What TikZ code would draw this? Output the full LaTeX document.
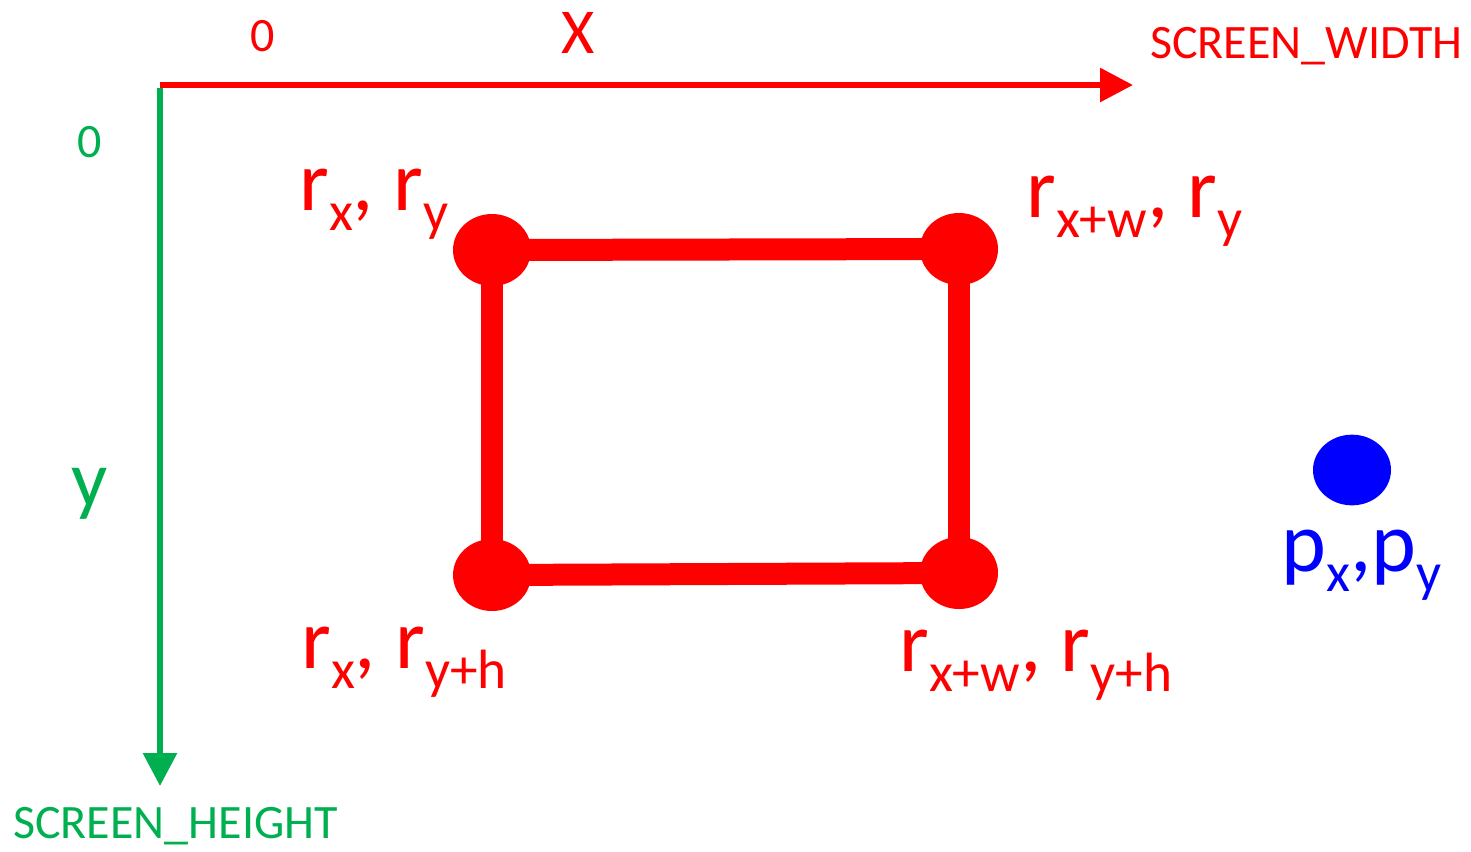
\documentclass[tikz,border=0pt]{standalone}
\usepackage{fontspec}
\setmainfont{Carlito}
\usetikzlibrary{arrows.meta,shapes.geometric,backgrounds}
\definecolor{axred}{HTML}{FF0000}
\definecolor{axgreen}{HTML}{00B050}
\definecolor{ptblue}{HTML}{0000FF}
\newcommand\sbx[1]{\raisebox{-15pt}{\fontsize{41.5pt}{41.5pt}\selectfont #1}}
\tikzset{
  corner/.style={ellipse,fill=axred,draw=none,minimum width=58.5pt,minimum height=54pt,inner sep=0},
  edge/.style={axred,line width=16.5pt},
  lbl/.style={inner sep=0,anchor=base west,font=\fontsize{64pt}{64pt}\selectfont},
  small/.style={inner sep=0,anchor=base,font=\fontsize{36pt}{36pt}\selectfont},
  axis/.style={line width=4.5pt,-{Triangle[length=24.75pt,width=24.75pt]}}
}
\begin{document}
\begin{tikzpicture}[x=0.75pt,y=-0.75pt]
\useasboundingbox (0,0) rectangle (1471,851);
% axes
\coordinate (O) at (160,85);
\coordinate (xend) at (1133,85);
\coordinate (yend) at (160,786);
\draw[axis,axred] (O) -- (xend);
\draw[axis,axgreen] ([yshift=-2.25pt]O) -- (yend);
% axis labels
\node[small,text=axred] (zx) at (263,51) {0};
\node[inner sep=0,anchor=base,text=axred,font=\fontsize{48pt}{48pt}\selectfont] (X) at (578,53) {X};
\node[small,text=axred,anchor=base west] (sw) at (1150,58) {SCREEN\_WIDTH};
\node[small,text=axgreen] (zy) at (90,157) {0};
\node[inner sep=0,anchor=base,text=axgreen,font=\fontsize{60pt}{60pt}\selectfont] (Y) at (90,506) {y};
\node[small,text=axgreen,anchor=base west] (sh) at (13,838) {SCREEN\_HEIGHT};
% rectangle corners
\node[corner] (tl) at (492,250) {};
\node[corner] (tr) at (959,249) {};
\node[corner] (bl) at (492,575) {};
\node[corner] (br) at (959,573) {};
\begin{scope}[on background layer]
\draw[edge] (tl.center) -- (tr.center);
\draw[edge] (tr.center) -- (br.center);
\draw[edge] (br.center) -- (bl.center);
\draw[edge] (bl.center) -- (tl.center);
\end{scope}
% corner labels
\node[lbl,text=axred] (l1) at (299,210) {r\sbx{x}, r\sbx{y}};
\node[lbl,text=axred] (l2) at (1026,217) {r\sbx{x+w}, r\sbx{y}};
\node[lbl,text=axred] (l3) at (301,668) {r\sbx{x}, r\sbx{y+h}};
\node[lbl,text=axred] (l4) at (899,671) {r\sbx{x+w}, r\sbx{y+h}};
% point
\node[ellipse,fill=ptblue,draw=none,minimum width=58.5pt,minimum height=53pt,inner sep=0] (p) at (1352,470) {};
\node[lbl,text=ptblue] (pl) at (1281,571) {p\sbx{x},p\sbx{y}};
\end{tikzpicture}
\end{document}
